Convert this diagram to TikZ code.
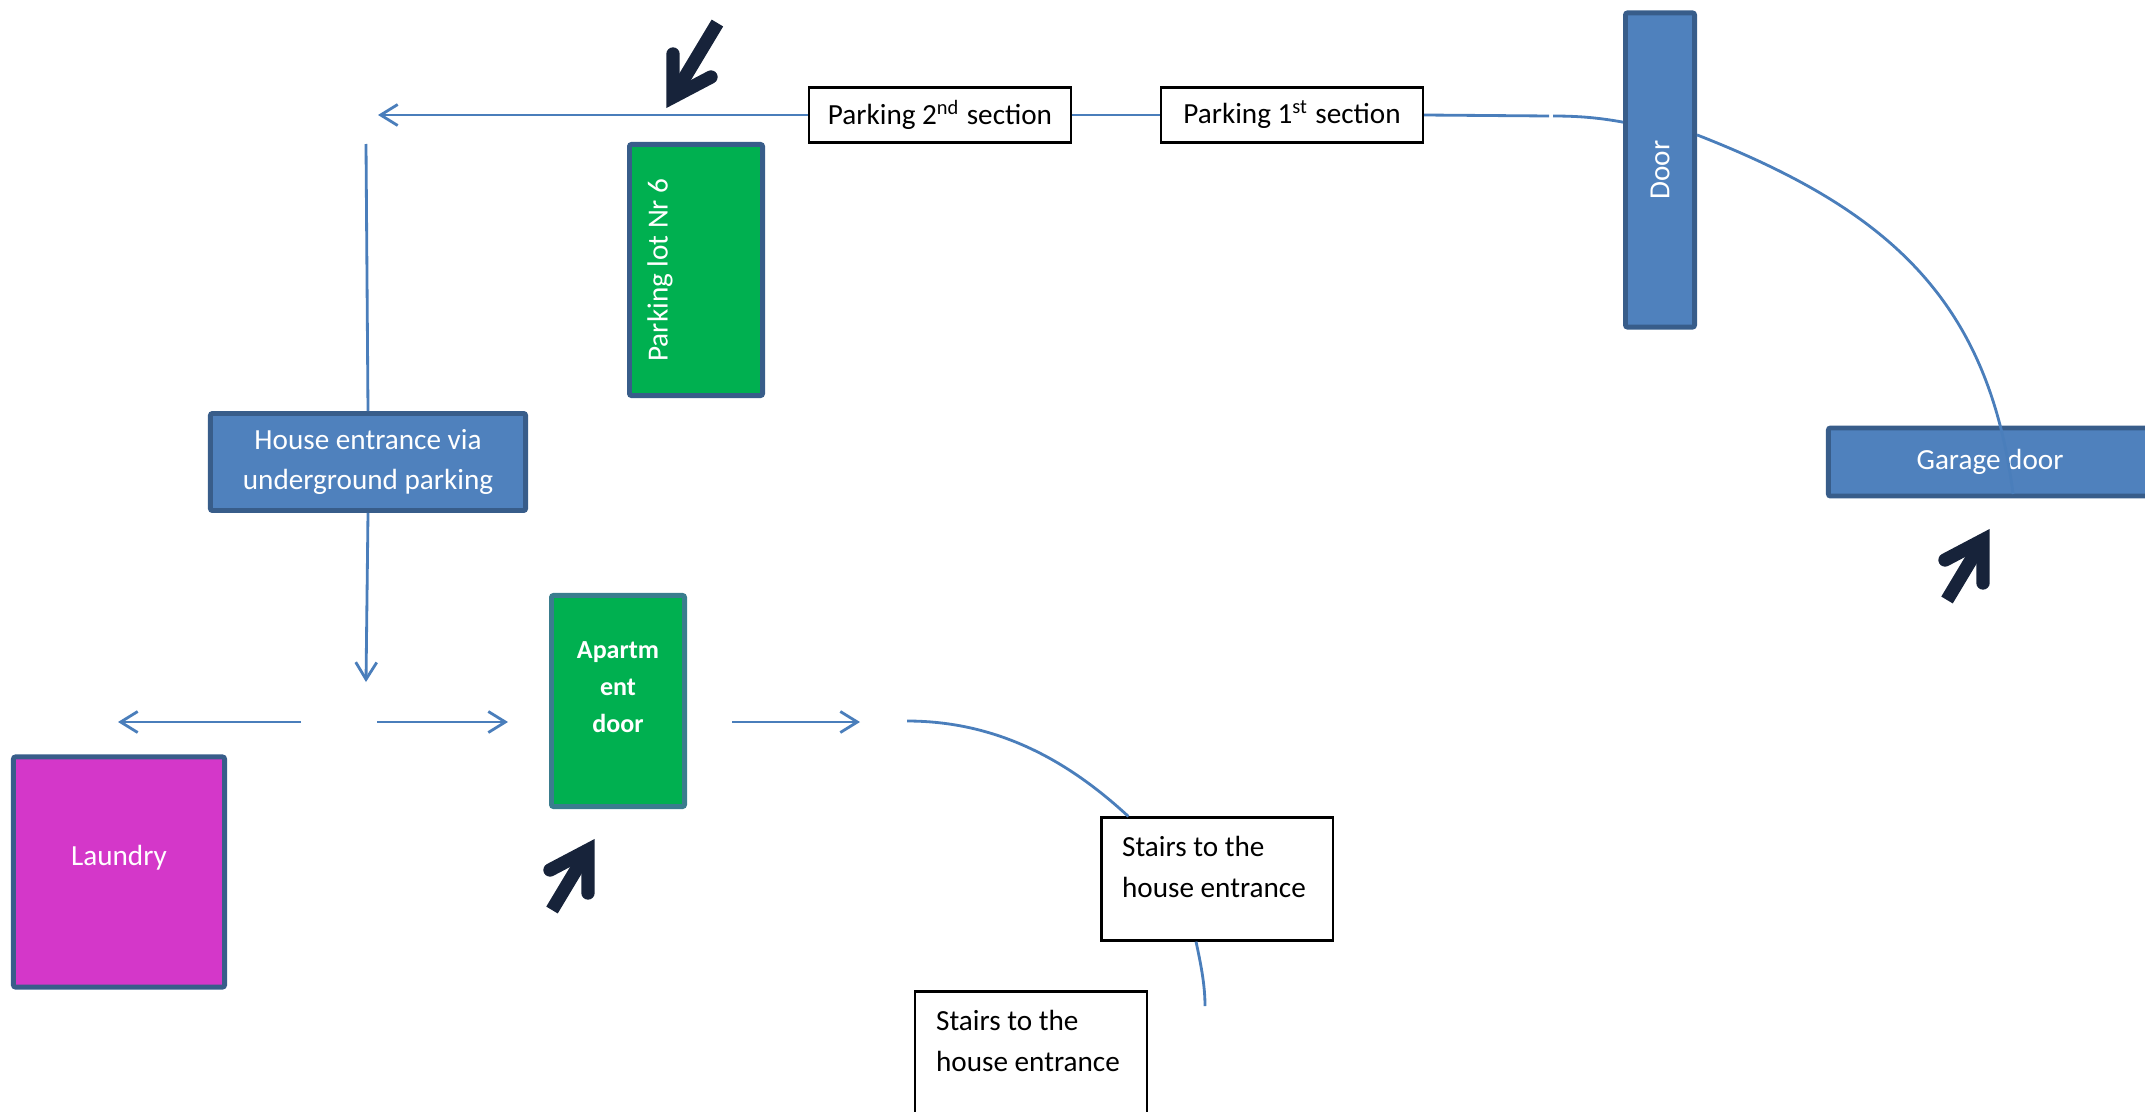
\documentclass[tikz,border=0pt]{standalone}
\usepackage{fontspec}
\setmainfont{Carlito}
\usetikzlibrary{arrows.meta,calc}

\definecolor{boxblue}{HTML}{4F81BD}
\definecolor{edgeblue}{HTML}{385D8A}
\definecolor{lotgreen}{HTML}{00B050}
\definecolor{edgeteal}{HTML}{3A7D8E}
\definecolor{laundrypink}{HTML}{D437C9}
\definecolor{pathblue}{HTML}{4A7EBB}
\definecolor{arrownavy}{HTML}{17233A}

\begin{document}
\begin{tikzpicture}[x=0.01cm, y=-0.01cm, font=\fontsize{8.3pt}{11.6pt}\selectfont,
	room/.style={rectangle, draw=edgeblue, line width=1.4pt, text=white, inner sep=0pt, rounded corners=0.6pt},
	tag/.style={rectangle, draw=black, line width=0.6pt, fill=white, inner sep=0pt},
	route/.style={draw=pathblue, line width=0.8pt},
	routearrow/.style={route, -{Straight Barb[length=0.17cm, width=0.21cm]}}]
	\useasboundingbox (0,0) rectangle (2145,1112);

	% Rooms and doors
	\node[room, fill=boxblue, minimum width=0.69cm, minimum height=3.14cm] (door) at (1660,170) {\rotatebox{90}{Door}};
	\node[room, fill=boxblue, minimum width=3.23cm, minimum height=0.68cm] (garage) at (1990,462) {Garage door};
	\node[room, fill=lotgreen, minimum width=1.33cm, minimum height=2.51cm] (lot) at (696,270) {};
	\node[text=white, inner sep=0pt] (lottext) at ([xshift=-0.36cm]lot.center) {\rotatebox{90}{Parking lot Nr 6}};
	\node[room, fill=boxblue, minimum width=3.15cm, minimum height=0.97cm, align=center] (house) at (368,462) {House entrance via\\underground parking};
	\node[room, fill=lotgreen, draw=edgeteal, minimum width=1.33cm, minimum height=2.11cm] (apt) at (618,701) {};
	\node[text=white, inner sep=0pt, align=center, font=\fontsize{7.4pt}{10.5pt}\selectfont\bfseries] (apttext) at ([yshift=0.14cm]apt.center) {Apartm\\ent\\door};
	\node[room, fill=laundrypink, minimum width=2.11cm, minimum height=2.30cm] (laundry) at (119,872) {};
	\node[text=white, inner sep=0pt] (laundrytext) at ([yshift=0.14cm]laundry.center) {Laundry};

	% Labels
	\node[tag, minimum width=2.62cm, minimum height=0.55cm] (park2) at (940,115) {Parking 2\textsuperscript{nd} section};
	\node[tag, minimum width=2.62cm, minimum height=0.55cm] (park1) at (1292,115) {Parking 1\textsuperscript{st} section};
	\node[tag, minimum width=2.31cm, minimum height=1.23cm] (stairs1) at (1217,879) {};
	\node[inner sep=0pt, align=left, anchor=north west] (stairs1text) at ([shift={(0.21cm,-0.19cm)}]stairs1.north west) {Stairs to the\\house entrance};
	\node[tag, minimum width=2.31cm, minimum height=1.23cm] (stairs2) at (1031,1053) {};
	\node[inner sep=0pt, align=left, anchor=north west] (stairs2text) at ([shift={(0.21cm,-0.19cm)}]stairs2.north west) {Stairs to the\\house entrance};

	% Free ends of the routes
	\coordinate (topend) at (378,115);
	\coordinate (gapl) at (1549,116);
	\coordinate (gapr) at (1553,116);
	\coordinate (doorin) at ($(door.north west)!0.35!(door.south west)$);
	\coordinate (doorout) at ($(door.north east)!0.39!(door.south east)$);
	\coordinate (garagein) at (2013,494);
	\coordinate (vtop) at (366,144);
	\coordinate (split) at (366,682);
	\coordinate (hubwest) at (301,722);
	\coordinate (laundryend) at (118,722);
	\coordinate (hubeast) at (377,722);
	\coordinate (aptwest) at (508,722);
	\coordinate (apteast) at (732,722);
	\coordinate (stairsway) at (860,722);
	\coordinate (curvestart) at (907,721);
	\coordinate (stairs1in) at ($(stairs1.north west)!0.12!(stairs1.north east)$);
	\coordinate (stairs1out) at ($(stairs1.south west)!0.41!(stairs1.south east)$);
	\coordinate (stairsend) at (1205,1006);

	% Routes
	\draw[routearrow] (park2.west) -- (topend);
	\draw[route] (park2.east) -- (park1.west);
	\draw[route] (park1.east) -- (gapl);
	\draw[route] (gapr) .. controls (1580,116) and (1600,118) .. (doorin);
	\draw[route] (doorout) .. controls (1884,208) and (1988,296) .. (garagein);
	\draw[route] (vtop) -- (house.north);
	\draw[routearrow] (house.south) -- (split);
	\draw[routearrow] (hubwest) -- (laundryend);
	\draw[routearrow] (hubeast) -- (aptwest);
	\draw[routearrow] (apteast) -- (stairsway);
	\draw[route] (curvestart) .. controls (1007,721) and (1078,770) .. (stairs1in);
	\draw[route] (stairs1out) .. controls (1201,965) and (1205,985) .. (stairsend);

	% Pointer arrows
	\foreach \px/\py/\ang/\s in {1989/530/0/1, 594/840/0/1, 667/107/180/1.2} {
		\begin{scope}[shift={(\px,\py)}, rotate=\ang]
			\draw[arrownavy, line width=3.8pt] (-42*\s,70*\s) -- (-6,10);
			\draw[arrownavy, line width=3.8pt, line cap=round, line join=miter] (-44,30) -- (-6,10) -- (-6,53);
		\end{scope}
	}
\end{tikzpicture}
\end{document}
